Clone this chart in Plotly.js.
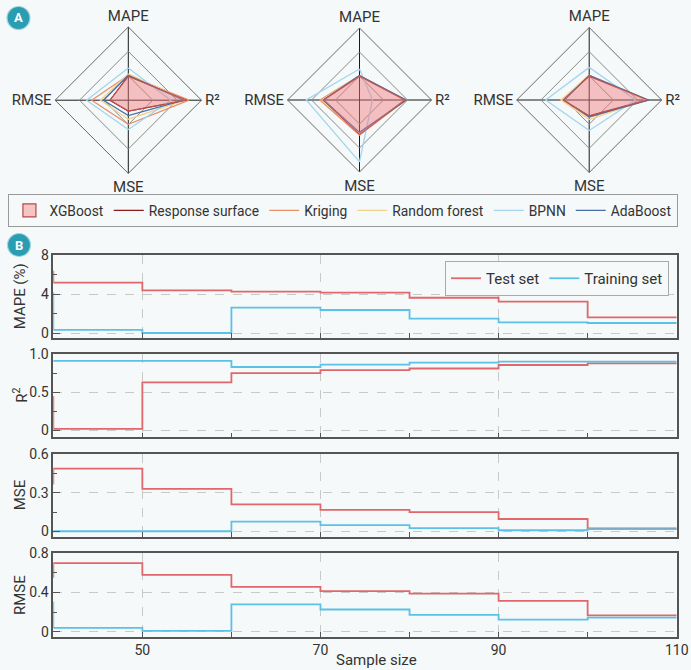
<!DOCTYPE html>
<html>
<head>
<meta charset="utf-8">
<script src="https://cdn.plot.ly/plotly-3.0.1.min.js"></script>
<style>
  html, body { margin: 0; padding: 0; background: #f5f9f9; }
  #chart { width: 691px; height: 670px; }
</style>
</head>
<body>
<div id="chart"></div>
<script>
// radar axes, clockwise from the top
var metrics = ['MAPE', 'R²', 'MSE', 'RMSE'];
var models = ['XGBoost', 'Response surface', 'Kriging', 'Random forest', 'BPNN', 'AdaBoost'];
var modelColors = ['#c0504d', '#8e1b1b', '#e8926a', '#f3d28c', '#a3d5ef', '#4a6ea8'];

// normalised scores per model (MAPE, R², MSE, RMSE), one list per radar
var radar1 = [
    [0.33, 0.80, 0.15, 0.25],
    [0.33, 0.79, 0.15, 0.25],
    [0.34, 0.83, 0.33, 0.50],
    [0.36, 0.78, 0.26, 0.38],
    [0.44, 0.58, 0.40, 0.57],
    [0.34, 0.76, 0.21, 0.34]
];
var radar2 = [
    [0.33, 0.64, 0.48, 0.51],
    [0.33, 0.63, 0.47, 0.50],
    [0.34, 0.64, 0.49, 0.55],
    [0.33, 0.65, 0.46, 0.52],
    [0.43, 0.18, 0.86, 0.74],
    [0.34, 0.65, 0.45, 0.50]
];
var radar3 = [
    [0.33, 0.81, 0.22, 0.36],
    [0.33, 0.80, 0.22, 0.36],
    [0.34, 0.80, 0.24, 0.37],
    [0.34, 0.79, 0.27, 0.39],
    [0.45, 0.64, 0.42, 0.60],
    [0.34, 0.82, 0.23, 0.35]
];

// panel B, step curves vs sample size
var sampleSize = [30, 40, 50, 60, 70, 80, 90, 100, 110];
var mapeTest   = [6.3, 5.17, 4.39, 4.25, 4.15, 3.63, 3.23, 1.63, 1.63];
var mapeTrain  = [4.1, 0.34, 0.03, 2.62, 2.38, 1.49, 1.12, 1.05, 1.05];
var r2Test     = [0.44, 0.02, 0.63, 0.75, 0.79, 0.81, 0.856, 0.878, 0.878];
var r2Train    = [0.91, 0.91, 0.91, 0.83, 0.86, 0.886, 0.90, 0.90, 0.90];
var mseTest    = [0.37, 0.487, 0.33, 0.21, 0.168, 0.15, 0.097, 0.024, 0.024];
var mseTrain   = [0.0, 0.002, 0.002, 0.077, 0.05, 0.026, 0.01, 0.018, 0.018];
var rmseTest   = [0.56, 0.70, 0.58, 0.457, 0.415, 0.388, 0.316, 0.168, 0.168];
var rmseTrain  = [0.3, 0.04, 0.01, 0.28, 0.227, 0.172, 0.124, 0.144, 0.144];

var W = 691, H = 670;
function px(x) { return x / W; }
function py(y) { return 1 - y / H; }

var FONT = 'Roboto, sans-serif';
var BG = '#f5f9f9';
var testColor = '#e0676b';
var trainColor = '#5bc1e6';
var xgbFill = 'rgba(242,120,125,0.45)';

var data = [];

function closed(arr) { return arr.concat([arr[0]]); }

// legend-only entry so XGBoost shows a small square like the original
data.push({
    type: 'scatterpolar', subplot: 'polar', r: [null], theta: [metrics[0]],
    mode: 'markers', name: models[0], legendrank: 1,
    marker: { symbol: 'square', size: 13, color: '#f7c4c4', line: { color: '#b5484a', width: 1.2 } },
    hoverinfo: 'skip'
});

[radar1, radar2, radar3].forEach(function(radar, p) {
    var sub = p === 0 ? 'polar' : 'polar' + (p + 1);
    // lines first, XGBoost fill on top
    for (var m = 1; m < models.length; m++) {
        data.push({
            type: 'scatterpolar',
            subplot: sub,
            r: closed(radar[m]),
            theta: closed(metrics),
            mode: 'lines',
            name: models[m],
            legendrank: m + 1,
            line: { color: modelColors[m], width: 1.3 },
            showlegend: p === 0,
            hoverinfo: 'skip'
        });
    }
    data.push({
        type: 'scatterpolar',
        subplot: sub,
        r: closed(radar[0]),
        theta: closed(metrics),
        mode: 'lines',
        fill: 'toself',
        fillcolor: xgbFill,
        name: models[0],
        line: { color: modelColors[0], width: 1 },
        showlegend: false,
        hoverinfo: 'skip'
    });
});

var series = [
    [mapeTest, mapeTrain],
    [r2Test, r2Train],
    [mseTest, mseTrain],
    [rmseTest, rmseTrain]
];
series.forEach(function(pair, i) {
    var xa = i === 0 ? 'x' : 'x' + (i + 1);
    var ya = i === 0 ? 'y' : 'y' + (i + 1);
    data.push({
        x: sampleSize, y: pair[0], xaxis: xa, yaxis: ya,
        type: 'scatter', mode: 'lines', line: { shape: 'hv', color: testColor, width: 1.8 },
        name: 'Test set', legend: 'legend2', showlegend: i === 0
    });
    data.push({
        x: sampleSize, y: pair[1], xaxis: xa, yaxis: ya,
        type: 'scatter', mode: 'lines', line: { shape: 'hv', color: trainColor, width: 1.8 },
        name: 'Training set', legend: 'legend2', showlegend: i === 0
    });
});

function polarLayout(cx, cy, r) {
    return {
        domain: { x: [px(cx - r), px(cx + r)], y: [py(cy + r), py(cy - r)] },
        bgcolor: 'rgba(0,0,0,0)',
        gridshape: 'linear',
        radialaxis: {
            range: [0, 1],
            tickvals: [1 / 3, 2 / 3],
            showticklabels: false,
            ticks: '',
            showline: false,
            gridcolor: '#8a8a8a',
            gridwidth: 1
        },
        angularaxis: {
            direction: 'clockwise',
            rotation: 90,
            categoryorder: 'array',
            categoryarray: metrics,
            ticks: '',
            showline: true,
            linecolor: '#6a6a6a',
            linewidth: 1,
            gridcolor: '#1a1a1a',
            gridwidth: 1.4,
            tickfont: { size: 15, color: '#333' }
        }
    };
}

var xDom = [px(53.3), px(676.7)];
var panels = [
    { top: 255, bot: 337.7, range: [-0.45, 8], vals: [0, 4, 8], text: ['0', '4', '8'], minor: 2, title: 'MAPE (%)' },
    { top: 354, bot: 437.3, range: [-0.09, 1.0], vals: [0, 0.5, 1], text: ['0', '0.5', '1.0'], minor: 0.25, title: 'R<sup>2</sup>' },
    { top: 454, bot: 536.7, range: [-0.04, 0.6], vals: [0, 0.3, 0.6], text: ['0', '0.3', '0.6'], minor: 0.15, title: 'MSE' },
    { top: 553.3, bot: 636.7, range: [-0.05, 0.8], vals: [0, 0.4, 0.8], text: ['0', '0.4', '0.8'], minor: 0.2, title: 'RMSE' }
];

var layout = {
    width: W,
    height: H,
    margin: { l: 0, r: 0, t: 0, b: 0 },
    paper_bgcolor: BG,
    plot_bgcolor: 'rgba(0,0,0,0)',
    font: { family: FONT, size: 14, color: '#333' },
    showlegend: true,
    polar: polarLayout(128.3, 100.2, 73.2),
    polar2: polarLayout(359.5, 100, 72),
    polar3: polarLayout(589.2, 100, 72.5),
    legend: {
        orientation: 'h',
        x: 0.497, xanchor: 'center',
        y: py(210.5), yanchor: 'middle',
        bgcolor: BG,
        bordercolor: '#9a9a9a',
        borderwidth: 1,
        font: { size: 13.8, color: '#333' },
        traceorder: 'normal',
        itemwidth: 30
    },
    legend2: {
        orientation: 'h',
        x: px(669), xanchor: 'right',
        y: py(261), yanchor: 'top',
        bgcolor: BG,
        bordercolor: '#aaaaaa',
        borderwidth: 1,
        font: { size: 15, color: '#333' }
    },
    shapes: [],
    annotations: []
};

panels.forEach(function(pn, i) {
    var xk = i === 0 ? 'xaxis' : 'xaxis' + (i + 1);
    var yk = i === 0 ? 'yaxis' : 'yaxis' + (i + 1);
    var yname = i === 0 ? 'y' : 'y' + (i + 1);
    var last = i === panels.length - 1;
    layout[xk] = {
        domain: xDom,
        anchor: yname,
        range: [40, 110],
        tickvals: [50, 70, 90, 110],
        showticklabels: last,
        ticks: 'inside',
        ticklen: 5,
        tickcolor: '#555',
        tickfont: { size: 14, color: '#333' },
        showgrid: true,
        gridcolor: '#c9c9c9',
        griddash: 'dash',
        gridwidth: 1,
        zeroline: false,
        showline: true,
        mirror: true,
        linecolor: '#555',
        linewidth: 1.5,
        minor: { tickvals: [40, 60, 80, 100], ticks: 'inside', ticklen: 5, tickcolor: '#555', showgrid: false }
    };
    if (i > 0) layout[xk].matches = 'x';
    layout[yk] = {
        domain: [py(pn.bot), py(pn.top)],
        anchor: i === 0 ? 'x' : 'x' + (i + 1),
        range: pn.range,
        tickvals: pn.vals,
        ticktext: pn.text,
        ticks: 'inside',
        ticklen: 7,
        tickcolor: '#555',
        tickfont: { size: 14, color: '#333' },
        showgrid: true,
        gridcolor: '#c9c9c9',
        griddash: 'dash',
        gridwidth: 1,
        zeroline: false,
        showline: true,
        mirror: true,
        linecolor: '#555',
        linewidth: 1.5,
        minor: { dtick: pn.minor, tick0: 0, ticks: 'inside', ticklen: 4, tickcolor: '#555', showgrid: false }
    };
    // y titles aligned at one x like the original
    layout.annotations.push({
        text: pn.title, xref: 'paper', yref: 'paper',
        x: px(20), y: py((pn.top + pn.bot) / 2),
        xanchor: 'center', yanchor: 'middle', textangle: -90,
        showarrow: false, font: { size: 15, color: '#333' }
    });
});

layout.annotations.push({
    text: 'Sample size', xref: 'paper', yref: 'paper',
    x: px(377), y: py(660), xanchor: 'center', yanchor: 'middle',
    showarrow: false, font: { size: 15, color: '#333' }
});

// round panel badges
[['A', 18.5, 18], ['B', 19, 245]].forEach(function(b) {
    var r = 11.5;
    layout.shapes.push({
        type: 'circle', xref: 'paper', yref: 'paper', layer: 'below',
        x0: px(b[1] - r), x1: px(b[1] + r), y0: py(b[2] + r), y1: py(b[2] - r),
        fillcolor: '#2a9db2', line: { color: '#9fd6df', width: 1.2 }
    });
    layout.annotations.push({
        text: b[0], xref: 'paper', yref: 'paper',
        x: px(b[1]), y: py(b[2]), xanchor: 'center', yanchor: 'middle',
        showarrow: false,
        font: { size: 13, color: '#ffffff', weight: 'bold' }
    });
});

Plotly.newPlot('chart', data, layout, { displayModeBar: false });
</script>
</body>
</html>
